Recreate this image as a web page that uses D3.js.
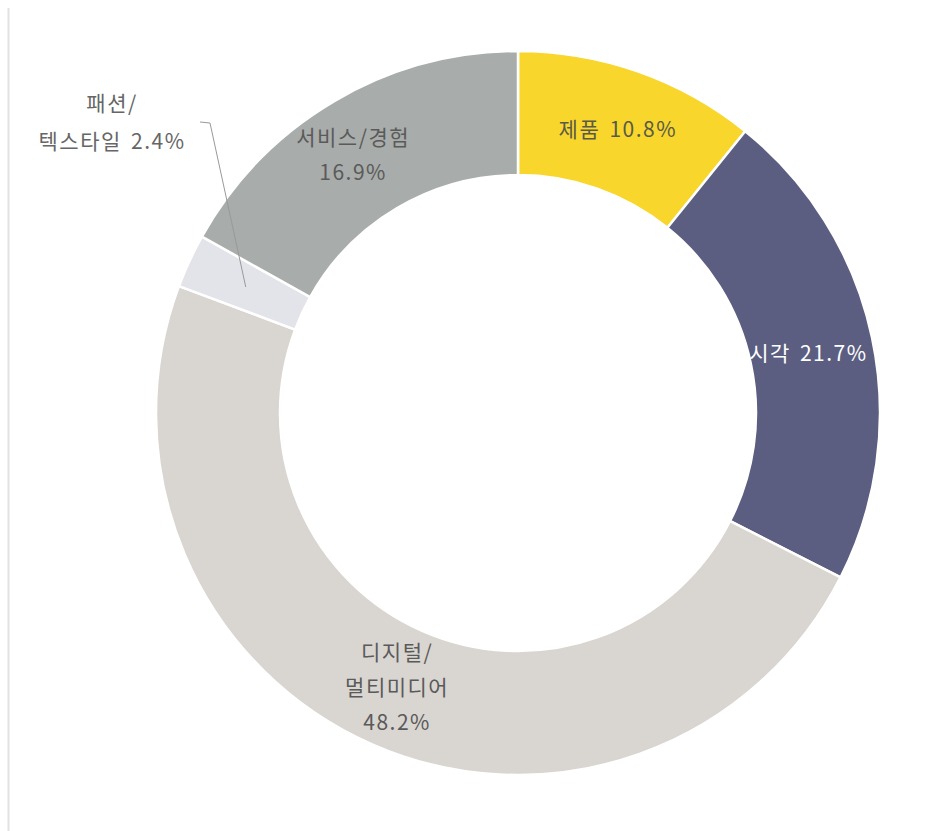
<!DOCTYPE html>
<html>
<head>
<meta charset="utf-8">
<script src="https://cdn.jsdelivr.net/npm/d3@7/dist/d3.min.js"></script>
<style>
  html, body { margin: 0; padding: 0; background: #fff; }
  svg { display: block; }
  text { font-family: "Noto Sans CJK KR", "Noto Sans", sans-serif; }
</style>
</head>
<body>
<script>
const categories = ["제품", "시각", "디지털/멀티미디어", "패션/텍스타일", "서비스/경험"];
const values = [10.8, 21.7, 48.2, 2.4, 16.9];
const labelLines = [
  ["제품 10.8%"],
  ["시각 21.7%"],
  ["디지털/", "멀티미디어", "48.2%"],
  ["패션/", "텍스타일 2.4%"],
  ["서비스/경험", "16.9%"]
];
const colors = ["#f8d62b", "#5b5e80", "#d9d5d1", "#e3e3ea", "#a8acaa"];
const textColors = ["#5a5a4a", "#ffffff", "#5a5a5a", "#666666", "#5a5a5a"];

const W = 940, H = 831;
const cx = 518, cy = 413, rOuter = 362, rInner = 238;

const svg = d3.select("body").append("svg").attr("width", W).attr("height", H);

// left rule
svg.append("line").attr("x1", 8.5).attr("x2", 8.5).attr("y1", 8).attr("y2", 831)
  .attr("stroke", "#e2e2e2").attr("stroke-width", 2);

const pie = d3.pie().sort(null).value(d => d)(values);
const arc = d3.arc().innerRadius(rInner).outerRadius(rOuter);
const labelArc = d3.arc().innerRadius(300).outerRadius(300);

const g = svg.append("g").attr("transform", `translate(${cx},${cy})`);
g.selectAll("path").data(pie).join("path")
  .attr("d", arc)
  .attr("fill", (d, i) => colors[i])
  .attr("stroke", "#fff")
  .attr("stroke-width", 2.5);

const lineH = 35;
const fs = 21;
const ls = 1.5;
const ws = 3;
// label offsets relative to centroid (for small adjustments)
const labelShift = [[0, 0], [-3, 3], [0, 0], null, [-13, 1]];

pie.forEach((d, i) => {
  if (i === 3) return;
  const [x, y] = labelArc.centroid(d);
  const lines = labelLines[i];
  const sx = labelShift[i][0], sy = labelShift[i][1];
  const t = g.append("text")
    .attr("text-anchor", "middle")
    .attr("font-size", fs)
    .attr("letter-spacing", ls)
    .attr("word-spacing", ws)
    .attr("fill", textColors[i]);
  lines.forEach((ln, k) => {
    t.append("tspan")
      .attr("x", x + sx)
      .attr("y", y + sy + (k - (lines.length - 1) / 2) * lineH + fs * 0.35)
      .text(ln);
  });
});

// outside label for small slice (패션/텍스타일)
{
  const d = pie[3];
  const a = (d.startAngle + d.endAngle) / 2;
  const px = Math.sin(a) * 300, py = -Math.cos(a) * 300;
  g.append("polyline")
    .attr("points", `${200 - cx},${122 - cy} ${210 - cx},${123 - cy} ${px},${py}`)
    .attr("fill", "none").attr("stroke", "#999").attr("stroke-width", 1);
  const t = svg.append("text")
    .attr("text-anchor", "middle")
    .attr("font-size", fs)
    .attr("letter-spacing", ls)
    .attr("word-spacing", ws)
    .attr("fill", textColors[3]);
  labelLines[3].forEach((ln, k) => {
    t.append("tspan").attr("x", 112).attr("y", 111 + k * 38).text(ln);
  });
}
</script>
</body>
</html>
